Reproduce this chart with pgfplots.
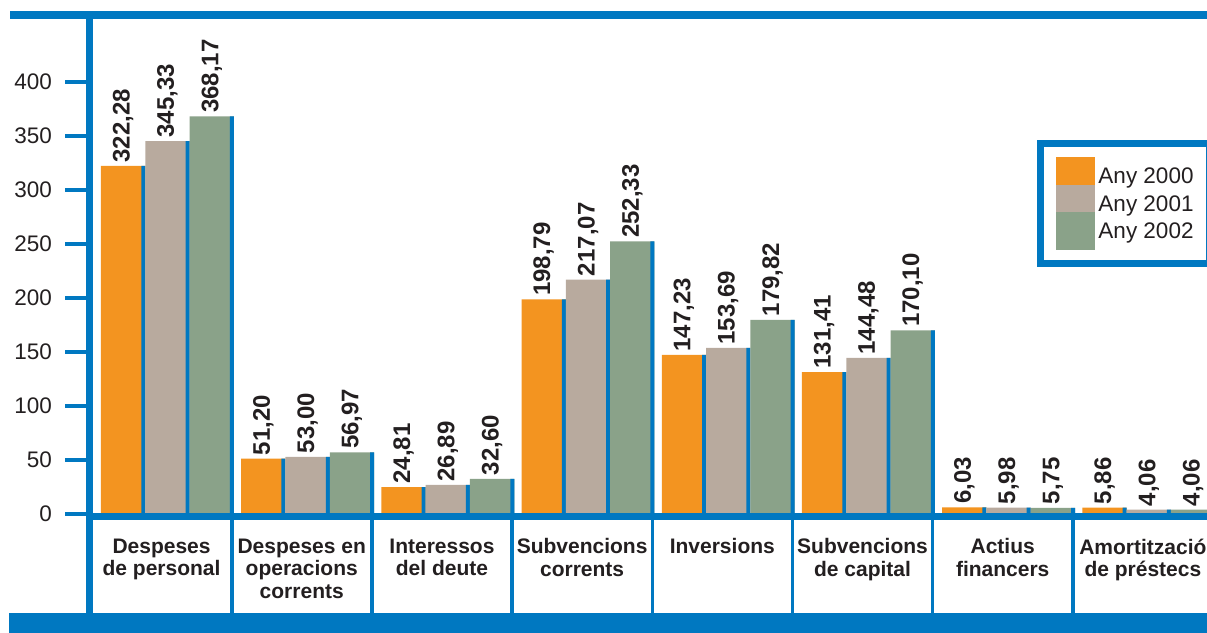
\documentclass[border=0pt]{standalone}
\usepackage{pgfplots}
\pgfplotsset{compat=1.18}
\usepackage{pgfplotstable}
\usepackage{fontspec}
\setmainfont{Liberation Sans}
\definecolor{cA}{HTML}{F39420}
\definecolor{cB}{HTML}{B8AA9E}
\definecolor{cC}{HTML}{8AA289}
\definecolor{bl}{HTML}{0078C1}
\definecolor{txt}{HTML}{231F20}
\pgfplotstableread{
a b c
322.28 345.33 368.17
51.20 53.00 56.97
24.81 26.89 32.60
198.79 217.07 252.33
147.23 153.69 179.82
131.41 144.48 170.10
6.03 5.98 5.75
5.86 4.06 4.06
}\data
\pgfplotsset{
  sw/.style={legend image code/.code={\fill[#1] (0bp,-15.5bp) rectangle (32bp,15.5bp);}},
  valbar/.style={ybar, bar width=0.316, bar shift=0pt, fill=#1, draw=none, forget plot,
    nodes near coords={\pgfmathprintnumber[fixed,fixed zerofill,precision=2,use comma,assume math mode=true]{\pgfplotspointmeta}},
    every node near coord/.append style={rotate=90, anchor=west, text=txt, font=\bfseries\fontsize{24bp}{28bp}\selectfont}},
  edgebar/.style={ybar, bar width=4bp, bar shift=0pt, fill=bl, draw=none, forget plot},
}
\begin{document}
\begin{tikzpicture}
\path[use as bounding box] (0,0) rectangle (1207bp,633bp);
\begin{axis}[
  at={(89.5bp,119bp)}, anchor=south west,
  scale only axis, width=1120.5bp, height=499bp,
  xmin=-0.514, xmax=7.479, ymin=0, ymax=462,
  clip=false,
  axis x line*=bottom, axis y line*=left,
  axis line style={draw=none},
  ytick={0,50,...,400},
  xtick={0,...,7},
  xticklabels={{Despeses\\de personal},{Despeses en\\operacions\\corrents},{Interessos\\del deute},{Subvencions\\corrents},{Inversions},{Subvencions\\de capital},{Actius\\financers},{Amortització\\de préstecs}},
  tick align=outside,
  major tick length=24.5bp,
  xtick style={draw=none},
  ytick style={draw=bl, line width=4bp},
  /pgf/number format/assume math mode=true,
  yticklabel style={font=\fontsize{22.5bp}{26bp}\selectfont, text=txt, inner sep=0pt, xshift=-13bp},
  xticklabel style={font=\bfseries\fontsize{21bp}{22.5bp}\selectfont, text=txt, align=center, anchor=north, inner sep=0pt},
  legend style={at={(0.846,0.7485)}, anchor=north west, draw=bl, line width=7bp, fill=white,
    inner xsep=15.5bp, inner ysep=13.5bp, row sep=-10.5bp, column sep=3bp,
    nodes={inner sep=0pt, text=txt}, font=\fontsize{22.5bp}{26bp}\selectfont},
  legend cell align=left,
]
\addplot[valbar=cA] table[x expr=\coordindex-0.274, y=a]{\data};
\addplot[edgebar] table[x expr=\coordindex-0.274+0.1437, y=a]{\data};
\addplot[valbar=cB] table[x expr=\coordindex+0.042, y=b]{\data};
\addplot[edgebar] table[x expr=\coordindex+0.042+0.1437, y=b]{\data};
\addplot[valbar=cC] table[x expr=\coordindex+0.358, y=c]{\data};
\addplot[edgebar] table[x expr=\coordindex+0.358+0.1437, y=c]{\data};
\addlegendimage{sw=cA}\addlegendentry{Any 2000}
\addlegendimage{sw=cB}\addlegendentry{Any 2001}
\addlegendimage{sw=cC}\addlegendentry{Any 2002}
\end{axis}
% frame decorations
\fill[bl] (10bp,614bp) rectangle (1207bp,622bp);
\fill[bl] (9bp,0bp) rectangle (1207bp,20bp);
\fill[bl] (86bp,0bp) rectangle (93bp,622bp);
\fill[bl] (86bp,113bp) rectangle (1207bp,120bp);
\foreach \k in {0,...,6}{
  \fill[bl] ({(230+140.18*\k)*1bp},20bp) rectangle ({(233.5+140.18*\k)*1bp},120bp);
}
\end{tikzpicture}
\end{document}
